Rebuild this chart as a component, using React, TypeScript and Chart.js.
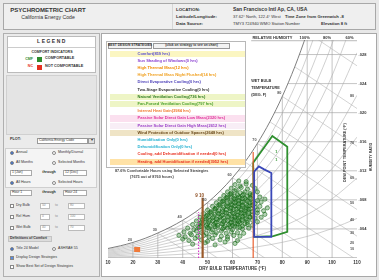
import React, { useEffect, useRef } from "react";
import { Chart, registerables } from "chart.js";

Chart.register(...registerables);

// ---------------- data ----------------
const X_TICKS = [10, 20, 30, 40, 50, 60, 70, 80, 90, 100, 110];
const Y_TICKS = [0.004, 0.008, 0.012, 0.016, 0.02, 0.024, 0.028];
const Y_TICK_LABELS = [".004", ".008", ".012", ".016", ".020", ".024", ".028"];
const H_LINE_START_T = [33.4, 51.2, 62.2, 70.4, 76.8, 82.2, 86.8];

const SAT_T = [10, 15, 20, 25, 30, 35, 40, 45, 50, 55, 60, 65, 70, 75, 80, 85, 90, 95];
const SAT_W = [0.00131, 0.00168, 0.00214, 0.00272, 0.00344, 0.00425, 0.00519, 0.0063, 0.00763, 0.0092, 0.01104, 0.01321, 0.01577, 0.01875, 0.02224, 0.02631, 0.03105, 0.03658];

const RH_T = [10, 20, 30, 40, 50, 60, 70, 80, 90, 100, 110];
const RH_10 = [0.00013, 0.00021, 0.00034, 0.00052, 0.00075, 0.00109, 0.00154, 0.00216, 0.00297, 0.00405, 0.00545];
const RH_20 = [0.00026, 0.00043, 0.00069, 0.00103, 0.00151, 0.00218, 0.00309, 0.00432, 0.00597, 0.00815, 0.011];
const RH_30 = [0.00039, 0.00064, 0.00103, 0.00155, 0.00227, 0.00327, 0.00465, 0.00651, 0.009, 0.01231, 0.01664];
const RH_40 = [0.00052, 0.00086, 0.00137, 0.00207, 0.00303, 0.00437, 0.00621, 0.00871, 0.01206, 0.01652, 0.02239];
const RH_50 = [0.00065, 0.00107, 0.00172, 0.00259, 0.00379, 0.00547, 0.00778, 0.01093, 0.01515, 0.02079, 0.02824];
const RH_60 = [0.00078, 0.00128, 0.00206, 0.00311, 0.00455, 0.00658, 0.00936, 0.01316, 0.01827, 0.02511, 0.03419];
const RH_70 = [0.00092, 0.0015, 0.0024, 0.00363, 0.00532, 0.00769, 0.01095, 0.0154, 0.02142, 0.02949, 0.04026];
const RH_80 = [0.00105, 0.00171, 0.00275, 0.00415, 0.0061, 0.0088, 0.01254, 0.01767, 0.0246, 0.03393, 0.04644];
const RH_90 = [0.00118, 0.00193, 0.0031, 0.00467, 0.00687, 0.00992, 0.01415, 0.01994, 0.02781, 0.03843, 0.05274];

const V_LINE_T = [20, 30, 40, 50, 60, 70, 80, 90, 100];
const V_LINE_TOP_W = [0.00214, 0.00344, 0.00519, 0.00763, 0.01104, 0.01577, 0.02224, 0.03, 0.03];

const WB_T = [30, 35, 40, 45, 50, 55, 60, 65, 70, 75, 80, 85, 90];
const WB_W = [0.00344, 0.00425, 0.00519, 0.0063, 0.00763, 0.0092, 0.01104, 0.01321, 0.01577, 0.01875, 0.02224, 0.02631, 0.03105];
const WB_END_T = [45.4, 54.0, 63.2, 73.0, 83.9, 95.7, 108.7, 110, 110, 110, 110, 110, 110];
const WB_END_W = [0, 0, 0, 0, 0, 0, 0, 0.003, 0.00667, 0.01076, 0.01538, 0.02057, 0.02645];

const SAT_LABEL_T = [20, 30, 40, 50, 60, 70, 80];
const SAT_LABEL_W = [0.00214, 0.00344, 0.00519, 0.00763, 0.01104, 0.01577, 0.02224];
const DEW_LABEL_T = [80, 70, 60, 50, 40, 30, 20, 10];
const DEW_LABEL_W = [0.02224, 0.01577, 0.01104, 0.00763, 0.00519, 0.00344, 0.00214, 0.00131];
const RH_LABELS = ["100%", "80%", "60%"];
const RH_LABEL_T = [89, 98, 107];

// hourly weather points (dry bulb F, humidity ratio)
const CLOUD: number[][] = [
  [44, 0.0019], [49, 0.0021], [53, 0.0018], [57, 0.0022], [61, 0.002],
  [40, 0.0026], [42.5, 0.0024], [45, 0.0027], [47.5, 0.0025], [50, 0.0023], [52, 0.0027], [55, 0.0025], [58, 0.0026], [62, 0.0024],
  [38.5, 0.0031], [41, 0.0029], [43.5, 0.0032], [46, 0.003], [48.5, 0.0031], [50.5, 0.0029], [53, 0.0032], [55.5, 0.003], [58, 0.0029], [60.5, 0.0031], [63, 0.003],
  [40.5, 0.0036], [43, 0.0034], [45.5, 0.0037], [47.5, 0.0035], [49.5, 0.0034], [51.5, 0.0036], [53.5, 0.0035], [55.5, 0.0037], [57.5, 0.0034], [59.5, 0.0036], [62, 0.0035], [64.5, 0.0034],
  [42, 0.0041], [44.5, 0.0039], [46.5, 0.0042], [48.5, 0.004], [50.5, 0.0041], [52, 0.0039], [54, 0.0042], [56, 0.004], [58, 0.0041], [60, 0.0039], [62, 0.0042], [64, 0.004], [66.5, 0.0041],
  [47, 0.0043], [50, 0.0042], [53, 0.0043], [56.5, 0.0042], [59, 0.0043], [61, 0.0044], [63, 0.0042],
  [44, 0.0046], [46, 0.0044], [48, 0.0047], [49.5, 0.0045], [51, 0.0044], [52.5, 0.0046], [54, 0.0045], [55.5, 0.0047], [57, 0.0044], [58.5, 0.0046], [60, 0.0045], [62, 0.0047], [64, 0.0044], [66, 0.0046], [68, 0.0045],
  [47, 0.0048], [50, 0.0047], [53, 0.0048], [56, 0.0047], [59, 0.0048], [61, 0.0047], [63, 0.0048], [65, 0.0047],
  [45.5, 0.0051], [47.5, 0.0049], [49, 0.0052], [50.5, 0.005], [52, 0.0051], [53.5, 0.0049], [55, 0.0052], [56.5, 0.005], [58, 0.0051], [59.5, 0.0049], [61, 0.0052], [62.5, 0.005], [64, 0.0051], [66, 0.0049], [68, 0.0052], [70, 0.005],
  [48, 0.0053], [51, 0.0052], [54, 0.0053], [57, 0.0052], [60, 0.0053], [62, 0.0052], [64, 0.0053], [66, 0.0052],
  [47, 0.0056], [49, 0.0054], [50.5, 0.0057], [52, 0.0055], [53.5, 0.0054], [55, 0.0056], [56.5, 0.0055], [58, 0.0057], [59.5, 0.0054], [61, 0.0056], [62.5, 0.0055], [64, 0.0057], [65.5, 0.0054], [67, 0.0056], [69, 0.0055], [71.5, 0.0056],
  [49.5, 0.0058], [52.5, 0.0057], [55.5, 0.0058], [58.5, 0.0057], [61, 0.0058], [63, 0.0057], [65, 0.0058], [67, 0.0057],
  [48.5, 0.0061], [50, 0.0059], [51.5, 0.0062], [53, 0.006], [54.5, 0.0061], [56, 0.0059], [57.5, 0.0062], [59, 0.006], [60.5, 0.0061], [62, 0.0059], [63.5, 0.0062], [65, 0.006], [66.5, 0.0061], [68, 0.0059], [70, 0.0062], [73, 0.006],
  [51, 0.0063], [54, 0.0062], [57, 0.0063], [60, 0.0062], [62.5, 0.0063], [64.5, 0.0062], [66.5, 0.0063],
  [50, 0.0066], [51.5, 0.0064], [53, 0.0067], [54.5, 0.0065], [56, 0.0064], [57.5, 0.0066], [59, 0.0065], [60.5, 0.0067], [62, 0.0064], [63.5, 0.0066], [65, 0.0065], [66.5, 0.0067], [68, 0.0064], [70, 0.0066], [72.5, 0.0065],
  [53, 0.0068], [56, 0.0067], [59, 0.0068], [61.5, 0.0067], [63.5, 0.0068], [65.5, 0.0067], [67.5, 0.0068],
  [52, 0.0071], [53.5, 0.0069], [55, 0.0072], [56.5, 0.007], [58, 0.0071], [59.5, 0.0069], [61, 0.0072], [62.5, 0.007], [64, 0.0071], [65.5, 0.0069], [67, 0.0072], [69, 0.007], [71, 0.0071], [74, 0.0069],
  [54.5, 0.0073], [57.5, 0.0072], [60, 0.0073], [62, 0.0072], [64, 0.0073], [66, 0.0072], [68, 0.0073],
  [53.5, 0.0076], [55, 0.0074], [56.5, 0.0077], [58, 0.0075], [59.5, 0.0074], [61, 0.0076], [62.5, 0.0075], [64, 0.0077], [65.5, 0.0074], [67, 0.0076], [69, 0.0075], [71.5, 0.0077],
  [56, 0.0078], [59, 0.0077], [61.5, 0.0078], [63.5, 0.0077], [66, 0.0078], [68, 0.0077],
  [55, 0.0081], [56.5, 0.0079], [58, 0.0082], [59.5, 0.008], [61, 0.0081], [62.5, 0.0079], [64, 0.0082], [65.5, 0.008], [67.5, 0.0081], [70, 0.0079], [73, 0.0081],
  [57.5, 0.0083], [60.5, 0.0082], [63, 0.0083], [65, 0.0082], [67, 0.0083],
  [56.5, 0.0086], [58, 0.0084], [59.5, 0.0087], [61, 0.0085], [62.5, 0.0084], [64, 0.0086], [66, 0.0085], [68, 0.0087], [71, 0.0084],
  [59, 0.0088], [62, 0.0087], [64.5, 0.0088], [67, 0.0087],
  [58, 0.0091], [59.5, 0.0089], [61, 0.0092], [63, 0.009], [65, 0.0091], [67, 0.0089], [70, 0.0091],
  [59.5, 0.0096], [61.5, 0.0094], [63.5, 0.0097], [66, 0.0095], [69, 0.0096],
  [61, 0.0101], [63, 0.0099], [65.5, 0.0102], [68, 0.01],
  [62.5, 0.0106], [65.5, 0.0105],
];

const COMFORT_T = [68.3, 76, 82, 82, 76.4, 68.7, 68.3];
const COMFORT_W = [0.0131, 0.0168, 0.0153, 0.0036, 0.003, 0.0029, 0.0131];
const BLUE_T = [68.7, 70.6, 72.7, 75.6, 75.6, 68.7, 68.7];
const BLUE_W = [0.0119, 0.0126, 0.0122, 0.0117, 0.0029, 0.0029, 0.0119];
const RED_LINE_T = 68.3;
const RED_LINE_TOP_W = 0.0146;
const BROWN_LINE_T = 48;
const BROWN_LINE_TOP_W = 0.0083;
const MAGENTA_LINE_T = 46.4;
const MAGENTA_LINE_TOP_W = 0.0063;

const STRATEGY_NAMES = [
  "Comfort", "Sun Shading of Windows", "High Thermal Mass", "High Thermal Mass Night Flushed",
  "Direct Evaporative Cooling", "Two-Stage Evaporative Cooling", "Natural Ventilation Cooling",
  "Fan-Forced Ventilation Cooling", "Internal Heat Gain", "Passive Solar Direct Gain Low Mass",
  "Passive Solar Direct Gain High Mass", "Wind Protection of Outdoor Spaces", "Humidification Only",
  "Dehumidification Only", "Cooling, add Dehumidification if needed", "Heating, add Humidification if needed",
];
const STRATEGY_HRS = [859, 0, 12, 14, 0, 0, 736, 797, 3984, 2320, 2612, 2648, 0, 0, 0, 3952];
const STRATEGY_PCT = ["9.8%", "", "", "", "", "", "8.4%", "9.1%", "", "26.5%", "", "30.2%", "", "", "", "45.1%"];
const STRATEGY_COLORS = ["#5a4fcf", "#8a3fd0", "#f08a00", "#f0a020", "#4b3fb8", "#333333", "#2e7d1e", "#4aa02c", "#f07a30", "#e0309a", "#9a40c8", "#6b4a1a", "#22b0d0", "#22b0d0", "#e83020", "#e83020"];
const STRATEGY_BG = ["#fbf6c2", "", "", "", "", "", "#eef5c6", "#eef5c6", "", "#fbe0ef", "#f8eef6", "#efe4c6", "", "", "", "#ffe2a6"];

// ---------------- helpers ----------------
const FONT = "Arial, 'Liberation Sans', sans-serif";
const pts = (xs: number[], ys: number[]) => xs.map((x, i) => ({ x, y: ys[i] }));
const seg = (x1: number, y1: number, x2: number, y2: number) => [{ x: x1, y: y1 }, { x: x2, y: y2 }];

function lineDs(data: any[], color: string, width: number, extra: any = {}) {
  return { data, showLine: true, borderColor: color, borderWidth: width, pointRadius: 0, pointHoverRadius: 0, fill: false, tension: 0, ...extra };
}

const labelPlugin = {
  id: "psyLabels",
  afterDatasetsDraw(chart: any) {
    const { ctx, scales } = chart;
    const px = (t: number) => scales.x.getPixelForValue(t);
    const py = (w: number) => scales.y.getPixelForValue(w);
    const font = (s: number, b = true) => `${b ? "bold " : ""}${s}px ${FONT}`;
    ctx.save();
    ctx.textBaseline = "middle";
    ctx.font = font(4.5);
    ctx.fillStyle = "#333";
    ctx.textAlign = "center";
    X_TICKS.forEach((t) => ctx.fillText(String(t), px(t), py(0) + 5));
    ctx.fillText("DRY BULB TEMPERATURE (°F)", (px(10) + px(110)) / 2, py(0) + 10.5);
    ctx.font = font(4);
    Y_TICKS.forEach((w, i) => ctx.fillText(Y_TICK_LABELS[i], px(110) + 5.5, py(w)));
    ctx.fillStyle = "#555";
    ctx.font = font(3.8);
    DEW_LABEL_T.forEach((t, i) => ctx.fillText(String(t), px(110) - 5, py(DEW_LABEL_W[i])));
    SAT_LABEL_T.forEach((t, i) => ctx.fillText(String(t), px(t) - 3, py(SAT_LABEL_W[i]) - 3));
    ctx.fillStyle = "#333";
    ctx.font = font(4);
    ctx.fillText("RELATIVE HUMIDITY", px(76), py(0.03) - 2.5);
    RH_LABELS.forEach((l, i) => ctx.fillText(l, px(RH_LABEL_T[i]), py(0.03) - 2.5));
    ctx.textAlign = "left";
    ctx.font = font(3.8);
    ctx.fillText("WET BULB", px(67.5), py(0.0243));
    ctx.fillText("TEMPERATURE", px(67.5), py(0.0234));
    ctx.fillText("(DEG. F)", px(67.5), py(0.0225));
    ctx.textAlign = "center";
    ctx.save();
    ctx.translate(px(110) - 12, py(0.0145));
    ctx.rotate(-Math.PI / 2);
    ctx.font = font(3.8);
    ctx.fillText("DEW POINT TEMPERATURE (°F)", 0, 0);
    ctx.restore();
    ctx.save();
    ctx.translate(px(110) + 14, py(0.0139));
    ctx.rotate(-Math.PI / 2);
    ctx.font = font(3.5);
    ctx.fillText("HUMIDITY RATIO", 0, 0);
    ctx.restore();
    ctx.fillStyle = "#f07a3a";
    ctx.fillRect(px(21.7) - 3, py(0.00117) - 2.5, 6, 5);
    ctx.fillStyle = "#8b4a1c";
    ctx.font = font(4.5);
    ctx.fillText("9 10", px(46.8), py(0.0086));
    ctx.fillStyle = "#3a9a3a";
    ctx.font = font(4);
    ctx.fillText("1", px(77.6), py(0.0146));
    ctx.fillText("1", px(77.6), py(0.0135));
    ctx.restore();
  },
};

function buildDatasets() {
  const grid = "#9c9c9c";
  const ds: any[] = [];
  Y_TICKS.forEach((w, i) => ds.push(lineDs(seg(H_LINE_START_T[i], w, 110, w), grid, 0.6)));
  ds.push(lineDs(seg(10, 0, 110, 0), "#777", 0.8));
  ds.push(lineDs(seg(67.5, 0.0299, 110, 0.0299), "#888", 0.6));
  V_LINE_T.forEach((t, i) => ds.push(lineDs(seg(t, 0, t, V_LINE_TOP_W[i]), grid, 0.6)));
  WB_T.forEach((t, i) => ds.push(lineDs(seg(t, WB_W[i], WB_END_T[i], WB_END_W[i]), "#b0b0b0", 0.55)));
  [RH_10, RH_20, RH_30, RH_40, RH_50, RH_60, RH_70, RH_80, RH_90].forEach((arr) =>
    ds.push(lineDs(pts(RH_T, arr), "#a8a8a8", 0.55, { cubicInterpolationMode: "monotone" }))
  );
  ds.push(lineDs(pts(SAT_T, SAT_W), "#707070", 0.9, { cubicInterpolationMode: "monotone" }));
  ds.push({
    data: CLOUD.map((p) => ({ x: p[0], y: p[1] })),
    showLine: false,
    pointRadius: 2.1,
    pointHoverRadius: 0,
    pointBorderWidth: 0.6,
    pointBorderColor: "rgba(18,100,18,0.9)",
    pointBackgroundColor: "rgba(40,130,40,0.35)",
  });
  ds.push(lineDs(seg(MAGENTA_LINE_T, 0, MAGENTA_LINE_T, MAGENTA_LINE_TOP_W), "#d21fc4", 1, { borderDash: [1.5, 1.5] }));
  ds.push(lineDs(seg(BROWN_LINE_T, 0, BROWN_LINE_T, BROWN_LINE_TOP_W), "#9a5a2a", 2.2));
  ds.push(lineDs(pts(COMFORT_T, COMFORT_W), "#2f8f2f", 1.8));
  ds.push(lineDs(seg(RED_LINE_T, 0, RED_LINE_T, RED_LINE_TOP_W), "#e8531f", 1.1));
  ds.push(lineDs(pts(BLUE_T, BLUE_W), "#3a48b8", 1.8, { fill: true, backgroundColor: "rgba(120,130,210,0.12)" }));
  return ds.reverse();
}

function PsychroChart() {
  const ref = useRef<HTMLCanvasElement | null>(null);
  useEffect(() => {
    if (!ref.current) return;
    const chart = new Chart(ref.current, {
      type: "scatter",
      data: { datasets: buildDatasets() },
      options: {
        animation: false,
        responsive: false,
        devicePixelRatio: 1,
        events: [],
        layout: { padding: { left: 6, right: 19, top: 7, bottom: 19 } },
        scales: {
          x: { type: "linear", min: 10, max: 110, display: false },
          y: { type: "linear", min: 0, max: 0.03, display: false },
        },
        plugins: { legend: { display: false }, tooltip: { enabled: false } },
      } as any,
      plugins: [labelPlugin],
    });
    return () => chart.destroy();
  }, []);
  return (
    <canvas
      ref={ref}
      width={274}
      height={244}
      style={{ position: "absolute", left: 102, top: 33, width: 274, height: 244 }}
    />
  );
}

function Txt(props: any) {
  const { x, y, s = 4, b = false, c = "#333", a = "left", ls, children } = props;
  const style: any = {
    position: "absolute",
    top: y - s * 0.55,
    fontSize: s,
    lineHeight: 1,
    fontWeight: b ? 700 : 400,
    color: c,
    whiteSpace: "nowrap",
    fontFamily: FONT,
    letterSpacing: ls,
  };
  if (a === "center") {
    style.left = x;
    style.transform = "translateX(-50%)";
  } else if (a === "right") {
    style.right = 379 - x;
  } else style.left = x;
  return <div style={style}>{children}</div>;
}

function Box(props: any) {
  const { x, y, w, h, bg = "#fff", bd = "#aaa", children, z } = props;
  return (
    <div
      style={{ position: "absolute", left: x, top: y, width: w, height: h, background: bg, border: `1px solid ${bd}`, boxSizing: "border-box", zIndex: z }}
    >
      {children}
    </div>
  );
}

function Radio({ x, y, on }: any) {
  return (
    <div
      style={{
        position: "absolute", left: x - 2, top: y - 2, width: 4, height: 4, borderRadius: 2,
        background: on ? "#3a6fd0" : "#fff", border: "0.5px solid #888", boxSizing: "border-box",
      }}
    />
  );
}
function Check({ x, y, on }: any) {
  return (
    <div
      style={{
        position: "absolute", left: x - 2, top: y - 2, width: 4, height: 4,
        background: on ? "#5b8de0" : "#fff", border: "0.5px solid #888", boxSizing: "border-box",
      }}
    />
  );
}

function LeftPanel() {
  const rows = [
    { y: 153, r1: "Annual", r2: "Monthly/Diurnal", on1: true },
    { y: 163, r1: "All Months", r2: "Selected Months", on1: true },
    { y: 183, r1: "All Hours", r2: "Selected Hours", on1: true },
  ];
  return (
    <>
      <Box x={3} y={33} w={97} h={244} bg="#ebebeb" bd="#b0b0b0" />
      <Box x={7} y={36} w={89} h={37} bg="#fff" bd="#bbb" />
      <div style={{ position: "absolute", left: 8, top: 47, width: 87, height: 0, borderTop: "1px solid #ccc" }} />
      <Txt x={52} y={41.5} s={5} b a="center" ls={1.5}>LEGEND</Txt>
      <Txt x={52} y={52.5} s={3.6} b a="center">COMFORT INDICATORS</Txt>
      <Txt x={33} y={59.5} s={3.6} b c="#2e8b2e" a="right">CMF</Txt>
      <div style={{ position: "absolute", left: 37, top: 57, width: 5, height: 5, background: "#2e8b2e" }} />
      <Txt x={45} y={59.5} s={3.8} b>COMFORTABLE</Txt>
      <Txt x={33} y={67} s={3.6} b c="#e53020" a="right">NC</Txt>
      <div style={{ position: "absolute", left: 37, top: 64.5, width: 5, height: 5, background: "#e53020" }} />
      <Txt x={45} y={67} s={3.8} b>NOT COMFORTABLE</Txt>
      <Box x={6} y={75} w={91} h={60} bg="#e4e4e4" bd="#d0d0d0" />
      <Txt x={10} y={140.5} s={3.8} b>PLOT:</Txt>
      <Box x={37} y={137.5} w={51} h={6} bg="#fff" bd="#999" />
      <Txt x={39} y={140.5} s={3.4}>California Energy Code</Txt>
      <Box x={88} y={137.5} w={7} h={6} bg="#e0e0e0" bd="#999" />
      <Txt x={91.5} y={140.5} s={3.5} a="center">▾</Txt>
      <Box x={5} y={148} w={92} h={40} bg="#f4f4f4" bd="#cfcfcf" />
      {rows.map((r) => (
        <React.Fragment key={r.y}>
          <Radio x={12} y={r.y} on={r.on1} />
          <Txt x={16} y={r.y} s={3.6}>{r.r1}</Txt>
          <Radio x={54} y={r.y} on={false} />
          <Txt x={58} y={r.y} s={3.6}>{r.r2}</Txt>
        </React.Fragment>
      ))}
      {[{ y: 173, a: "1 (Jan)", b: "12 (Dec)" }, { y: 193, a: "Hour 1", b: "Hour 24" }].map((r) => (
        <React.Fragment key={r.y}>
          <Box x={10} y={r.y - 3} w={22} h={6} bg="#fff" bd="#aaa" />
          <Txt x={12} y={r.y} s={3.4}>{r.a}</Txt>
          <Txt x={49} y={r.y} s={3.6} b a="center">through</Txt>
          <Box x={63} y={r.y - 3} w={24} h={6} bg="#fff" bd="#aaa" />
          <Txt x={65} y={r.y} s={3.4}>{r.b}</Txt>
        </React.Fragment>
      ))}
      {[{ y: 206, l: "Dry Bulb", m: "50", n: "80" }, { y: 217, l: "Rel Hum", m: "0", n: "100" }, { y: 228, l: "Wet Bulb", m: "40", n: "70" }].map((r) => (
        <React.Fragment key={r.y}>
          <Check x={12} y={r.y} on={false} />
          <Txt x={16} y={r.y} s={3.6}>{r.l}</Txt>
          <Box x={40} y={r.y - 3} w={10} h={6} bg="#fff" bd="#bbb" />
          <Txt x={42} y={r.y} s={3.2} c="#888">{r.m}</Txt>
          <Txt x={55} y={r.y} s={3.2} c="#888">to</Txt>
          <Box x={68} y={r.y - 3} w={17} h={6} bg="#fff" bd="#bbb" />
          <Txt x={70} y={r.y} s={3.2} c="#888">{r.n}</Txt>
        </React.Fragment>
      ))}
      <Box x={8} y={236} w={44} h={6} bg="#dcdcdc" bd="#c4c4c4" />
      <Txt x={10} y={239} s={3.5} b>Definitions of Comfort</Txt>
      <Radio x={12} y={249} on />
      <Txt x={16} y={249} s={3.6}>Title 24 Model</Txt>
      <Radio x={54} y={249} on={false} />
      <Txt x={58} y={249} s={3.6}>ASHRAE 55</Txt>
      <Check x={12} y={258} on />
      <Txt x={16} y={258} s={3.6}>Display Design Strategies</Txt>
      <Check x={12} y={267} on={false} />
      <Txt x={16} y={267} s={3.6}>Show Best Set of Design Strategies</Txt>
    </>
  );
}

function Header() {
  return (
    <>
      <Box x={3} y={3} w={373} h={27} bg="#efefef" bd="#a8a8a8" />
      <div style={{ position: "absolute", left: 172, top: 4, width: 0, height: 25, borderLeft: "1px solid #d6d6d6" }} />
      <Txt x={48} y={10} s={6} b a="center">PSYCHROMETRIC CHART</Txt>
      <Txt x={48} y={17.5} s={5.2} a="center">California Energy Code</Txt>
      <Txt x={176} y={10} s={4.4} b>LOCATION:</Txt>
      <Txt x={176} y={17} s={4.4} b>Latitude/Longitude:</Txt>
      <Txt x={176} y={24} s={4.4} b>Data Source:</Txt>
      <Txt x={233} y={10} s={5} b>San Francisco Intl Ap, CA, USA</Txt>
      <Txt x={233} y={17} s={4.1}>37.62° North, 122.4° West</Txt>
      <Txt x={285} y={17} s={4.2} b>Time Zone from Greenwich -8</Txt>
      <Txt x={233} y={24} s={4.1}>TMY3  724940  WMO Station Number</Txt>
      <Txt x={321} y={24} s={4.2} b>Elevation 8 ft</Txt>
    </>
  );
}

function StrategyLegend() {
  const top = 50.5;
  const rh = 7.2;
  return (
    <>
      <Box x={106} y={41} w={140} h={127} bg="#fff" bd="#b8b8b8" z={2} />
      <div style={{ position: "absolute", zIndex: 3, left: 0, top: 0 }}>
        <Box x={108} y={42.5} w={44} h={6} bg="#f3f3f3" bd="#999" />
        <Txt x={130} y={45.5} s={3.3} b a="center">BEST DESIGN STRATEGIES</Txt>
        <Box x={153} y={42.5} w={77} h={6} bg="#f3f3f3" bd="#999" />
        <Txt x={191.5} y={45.5} s={3.3} b a="center">(click on strategy to see on chart)</Txt>
        {STRATEGY_NAMES.map((n, i) => {
          const y = top + i * rh;
          return (
            <React.Fragment key={n}>
              {STRATEGY_BG[i] ? (
                <div style={{ position: "absolute", left: 110, top: y, width: 135, height: rh - 0.6, background: STRATEGY_BG[i] }} />
              ) : null}
              <Txt x={128} y={y + rh / 2 - 0.3} s={4} b c={STRATEGY_COLORS[i]} a="right">{STRATEGY_PCT[i]}</Txt>
              <Txt x={135.5} y={y + rh / 2 - 0.3} s={4} b c={STRATEGY_COLORS[i]} a="right">{String(i + 1)}</Txt>
              <Txt x={137.5} y={y + rh / 2 - 0.3} s={4} b c={STRATEGY_COLORS[i]}>{`${n}(${STRATEGY_HRS[i]} hrs)`}</Txt>
            </React.Fragment>
          );
        })}
        <Txt x={115} y={172.5} s={3.8} b c="#444">87.6%  Comfortable Hours using Selected Strategies</Txt>
        <Txt x={130} y={178.5} s={3.8} b c="#444">(7675 out of 8760 hours)</Txt>
      </div>
    </>
  );
}

export default function App() {
  return (
    <div
      style={{ position: "fixed", left: 0, top: 0, width: 379, height: 280, background: "#e8e8e8", overflow: "hidden", fontFamily: FONT }}
    >
      <Header />
      <LeftPanel />
      <Box x={101} y={33} w={276} h={244} bg="#ffffff" bd="#a8a8a8" />
      <PsychroChart />
      <StrategyLegend />
    </div>
  );
}
